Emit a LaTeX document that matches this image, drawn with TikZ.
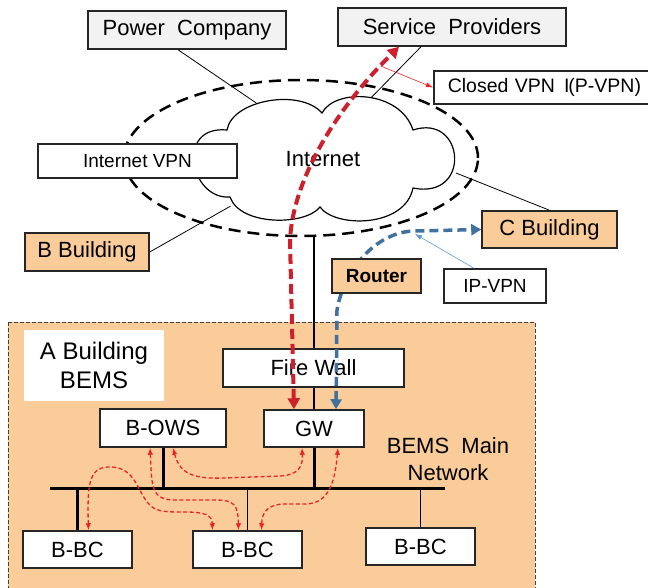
\documentclass[tikz,border=0pt]{standalone}
\usepackage{fontspec}
\setmainfont{Liberation Sans}
\usetikzlibrary{positioning,shapes.geometric,arrows.meta}

\definecolor{bems_peach}{RGB}{250,204,153}
\definecolor{box_grey}{RGB}{242,242,242}
\definecolor{path_red}{RGB}{205,32,44}
\definecolor{path_blue}{RGB}{65,113,158}
\definecolor{link_blue}{RGB}{91,155,213}
\definecolor{bus_red}{RGB}{236,34,39}

\tikzstyle{box}      = [rectangle, draw=black!85, line width=1.5pt, fill=white, text=black, inner sep=0pt, font=\fontsize{22}{26}\selectfont, align=center]
\tikzstyle{party}    = [box, fill=box_grey]
\tikzstyle{building} = [box, fill=bems_peach]
\tikzstyle{small}    = [box, font=\fontsize{19}{23}\selectfont]
\tikzstyle{link}     = [draw, line width=0.8pt]
\tikzstyle{bus}      = [draw, line width=3pt]
\tikzstyle{drop}     = [draw, line width=1.3pt]
\tikzstyle{route}    = [draw=path_red, line width=4pt, dash pattern=on 10pt off 5pt, {Triangle[length=11pt,width=12pt]}-{Triangle[length=11pt,width=12pt]}]
\tikzstyle{uplink}   = [draw=path_blue, line width=3.5pt, dash pattern=on 9pt off 5pt, {Triangle[length=10pt,width=11pt]}-{Triangle[length=10pt,width=11pt]}]
\tikzstyle{talk}     = [draw=bus_red, line width=1.3pt, dash pattern=on 4pt off 2.5pt, {Latex[length=7pt,width=5.5pt]}-{Latex[length=7pt,width=5.5pt]}]

\begin{document}
\begin{tikzpicture}[x=1pt, y=-1pt]
   \useasboundingbox (0,0) rectangle (648,587);

   % A Building area
   \draw [draw=black!75, line width=1pt, dash pattern=on 4pt off 2pt, fill=bems_peach] (8,322) rectangle (535,595);
   \node at (94,365.5) [fill=white, minimum width=140pt, minimum height=71pt, inner sep=0pt, align=center, font=\fontsize{24}{29}\selectfont] (a label) {A Building\\BEMS};
   \node at (448,459) [align=center, font=\fontsize{22}{27}\selectfont] (net label) {BEMS\ \ Main\\Network};

   % Internet and VPN
   \node at (301,158) [ellipse, draw, line width=2.5pt, dash pattern=on 12pt off 7pt, minimum width=354pt, minimum height=156pt] (vpn) {};
   \node at (323,159) [ellipse, minimum width=272pt, minimum height=128pt, inner sep=0pt] (inet) {};

   % Outside parties
   \node at (187,30) [party, minimum width=198pt, minimum height=38pt] (power) {Power\ \ Company};
   \node at (452,27) [party, minimum width=228pt, minimum height=38pt] (sp) {Service\ \ Providers};
   \node at (433,87.5) [box, anchor=west, minimum height=33pt, text width=200pt, inner xsep=14pt, align=left, font=\fontsize{19.5}{23}\selectfont] (cvpn) {Closed VPN\hspace{9pt}I\hspace{-1pt}(P-VPN)};
   \node at (87,252) [building, minimum width=124pt, minimum height=38pt] (bbld) {B Building};
   \node at (549.5,229.5) [building, minimum width=135pt, minimum height=37pt] (cbld) {C Building};
   \node at (495,286) [small, minimum width=102pt, minimum height=34pt] (ipvpn) {IP-VPN};

   \path [link] ([xshift=-9pt]power.south) -- (inet.140);
   \path [link] ([xshift=-31pt]sp.south) -- (inet.52);
   \path [link] (bbld.east) -- (inet.207);
   \path [link] (inet.-6) -- (cbld.north);

   % cloud outline over the link ends
   \draw [line width=1.2pt, fill=white] (227,130)
      .. controls (232,100) and (300,88) .. (322,113)
      .. controls (335,88) and (400,90) .. (413,130)
      .. controls (465,113) and (472,200) .. (413,188)
      .. controls (405,228) and (335,228) .. (320,207)
      .. controls (305,226) and (240,226) .. (230,197)
      .. controls (190,200) and (175,125) .. cycle;
   \node at (inet) [font=\fontsize{22}{26}\selectfont] (inet label) {Internet};

   \node at (137.5,161) [small, minimum width=199pt, minimum height=34pt] (ivpn) {Internet VPN};

   % A Building BEMS
   \node at (313.5,368) [box, minimum width=181pt, minimum height=38pt] (fw) {Fire Wall};
   \node at (314,428.5) [box, minimum width=100pt, minimum height=37pt] (gw) {GW};
   \node at (163,428) [box, minimum width=126pt, minimum height=38pt] (bows) {B-OWS};
   \node at (77.5,549.5) [box, minimum width=109pt, minimum height=37pt] (lbc) {B-BC};
   \node at (247.5,549.5) [box, minimum width=109pt, minimum height=37pt] (mbc) {B-BC};
   \node at (420.5,546.5) [box, minimum width=109pt, minimum height=37pt] (rbc) {B-BC};

   \path [link, line width=1.2pt] (vpn.south -| gw) -- (fw.north -| gw);
   \path [link, line width=1.2pt] (fw.south -| gw) -- (gw.north);

   % main network bus
   \coordinate (bus w) at (50,488);
   \coordinate (bus e) at (445,488);
   \path [bus] (bus w) -- (bus e);
   \path [bus] (bows.south) -- (bows.south |- bus w);
   \path [bus] (gw.south) -- (gw.south |- bus w);
   \path [bus] (lbc.north) -- (lbc.north |- bus w);
   \path [drop] (mbc.north) -- (mbc.north |- bus w);
   \path [drop] (rbc.north) -- (rbc.north |- bus w);

   % traffic on the BEMS network
   \path [talk] ([xshift=11pt]lbc.north) .. controls (87,480) and (90,466) .. (112,467) .. controls (135,468) and (138,492) .. (148,503) .. controls (155,512) and (165,512) .. (185,512) .. controls (205,512) and (212,515) .. ([xshift=-35pt]mbc.north);
   \path [talk] ([xshift=-13pt]bows.south) .. controls (152,485) and (150,500) .. (175,500) -- (215,500) .. controls (235,500) and (238,505) .. ([xshift=-9pt]mbc.north);
   \path [talk] ([xshift=10pt]bows.south) .. controls (180,475) and (195,479) .. (225,478) -- (280,476) .. controls (300,475) and (303,465) .. ([xshift=-12pt]gw.south);
   \path [talk] ([xshift=24pt]gw.south) .. controls (335,480) and (330,504) .. (305,504) -- (285,504) .. controls (268,504) and (262,512) .. ([xshift=14pt]mbc.north);

   % Service providers over the closed VPN
   \path [route] ([xshift=-20pt]gw.north) -- (290,240) .. controls (293,180) and (335,110) .. ([xshift=-53pt]sp.south) coordinate[pos=0.9] (tap);
   \path [draw=bus_red, line width=0.6pt, -{Latex[length=7pt,width=5pt]}] (tap) -- (cvpn.west);

   % C Building over IP-VPN
   \path [uplink] ([xshift=22pt]gw.north) -- (337,310) .. controls (345,265) and (380,231) .. (415,231) coordinate (merge) -- (cbld.west);
   \path [draw=link_blue, line width=0.6pt, -{Latex[length=7pt,width=5pt]}] ([xshift=-21pt]ipvpn.north) -- ([yshift=-3pt]merge);

   \node at (376.5,276) [building, minimum width=89pt, minimum height=34pt, font=\fontsize{19}{23}\selectfont\bfseries] (router) {Router};

\end{tikzpicture}
\end{document}
